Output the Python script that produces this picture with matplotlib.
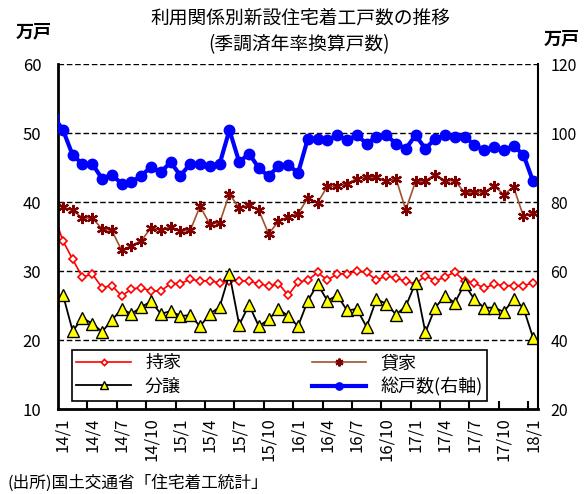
import numpy as np
import matplotlib
matplotlib.use('Agg')
import matplotlib.pyplot as plt

plt.rcParams['font.family'] = ['Noto Sans CJK JP', 'DejaVu Sans']

# months (first one, 13/12, sits just outside the axis and is clipped)
months = ['13/12'] + ['%d/%d' % (y, m) for y in range(14, 18) for m in range(1, 13)] + ['18/1']

# 万戸 (季調済年率)
mochiie = [38.5,
           34.4, 31.7, 29.1, 29.6, 27.6, 27.9, 26.4, 27.4, 27.6, 27.1, 27.1, 28.2,
           28.2, 28.8, 28.6, 28.6, 28.3, 28.6, 28.6, 28.5, 28.2, 27.8, 28.2, 26.5,
           28.4, 28.7, 29.8, 28.7, 29.6, 29.6, 30.0, 29.8, 28.7, 29.3, 29.0, 28.5,
           28.2, 29.3, 28.6, 29.1, 29.9, 28.5, 28.3, 27.5, 28.1, 27.9, 27.9, 27.9,
           28.3]
kashiya = [40.6,
           39.3, 38.8, 37.7, 37.7, 36.1, 35.9, 33.0, 33.7, 34.4, 36.3, 35.9, 36.4,
           35.8, 35.9, 39.4, 36.8, 37.0, 41.2, 39.1, 39.6, 38.8, 35.4, 37.2, 37.9,
           38.3, 40.6, 39.9, 42.3, 42.3, 42.7, 43.4, 43.6, 43.6, 43.0, 43.4, 38.9,
           43.0, 43.1, 44.0, 43.1, 43.1, 41.4, 41.5, 41.4, 42.4, 41.1, 42.2, 38.0,
           38.4]
bunjo = [25.8,
         26.6, 21.3, 23.2, 22.4, 21.2, 22.9, 24.5, 23.8, 24.8, 25.6, 23.8, 24.2,
         23.5, 23.6, 22.0, 23.8, 24.8, 29.6, 22.2, 25.1, 22.0, 23.0, 24.5, 23.5,
         22.0, 25.7, 28.1, 25.7, 26.5, 24.3, 24.5, 21.9, 25.9, 25.3, 23.7, 24.9,
         28.3, 21.1, 24.7, 26.4, 25.4, 28.1, 25.9, 24.7, 24.7, 24.1, 25.9, 24.7,
         20.3]
total = [105.0,
         101.0, 93.6, 91.1, 91.1, 86.8, 88.0, 85.3, 85.8, 87.7, 90.2, 88.7, 91.6,
         87.7, 91.1, 91.1, 90.5, 91.1, 100.9, 91.6, 94.1, 89.9, 87.5, 90.5, 90.9,
         88.4, 98.4, 98.4, 98.0, 99.4, 98.0, 99.4, 97.0, 98.9, 99.4, 97.0, 95.5,
         99.4, 95.5, 98.4, 99.4, 98.9, 98.9, 96.7, 95.0, 96.0, 95.0, 96.3, 93.8,
         86.0]

x = np.arange(len(months)) - 1
label_pos = np.arange(0, 49, 3)
label_txt = [months[i + 1] for i in label_pos]

fig = plt.figure(figsize=(5.84, 4.94), dpi=100)
ax = fig.add_axes([0.0993, 0.172, 0.822, 0.698])
ax2 = ax.twinx()

l1, = ax.plot(x, mochiie, color='red', lw=1.2, marker='D', ms=4.5,
              mfc='white', mec='red', mew=1.2, label='持家')
l2, = ax.plot(x, kashiya, color='#A0522D', lw=1.2, marker=(6, 2, 0), ms=8,
              mec='#800000', mew=1.6, label='貸家')
l3, = ax.plot(x, bunjo, color='black', lw=1.3, marker='^', ms=8.5,
              mfc='#FFFF00', mec='black', mew=1.0, label='分譲')
l4, = ax2.plot(x, total, color='#0000FF', lw=3.0, marker='o', ms=7.5,
               label='総戸数(右軸)')

ax.set_xlim(-0.5, 48.5)
ax.set_ylim(10, 60)
ax2.set_ylim(20, 120)
ax.set_yticks(np.arange(10, 61, 10))
ax2.set_yticks(np.arange(20, 121, 20))

for yy in [20, 30, 40, 50, 60]:
    ax.axhline(yy, color='black', lw=1.0, ls=(0, (4, 2)), zorder=0.5)

ax.set_xticks(label_pos)
ax.set_xticklabels(label_txt, rotation=90, fontsize=12)
ax.set_xticks(np.arange(2.5, 48, 3), minor=True)
ax.tick_params(axis='x', which='major', length=0, pad=6)
ax.tick_params(axis='x', which='minor', direction='in', length=6, width=1.5)
ax.tick_params(axis='y', length=0, pad=12, labelsize=12)
ax2.tick_params(axis='y', length=0, pad=9, labelsize=11.5)

ax.spines['top'].set_visible(False)
ax2.spines['top'].set_visible(False)
ax.spines['left'].set_linewidth(2)
ax.spines['bottom'].set_linewidth(2)
ax2.spines['left'].set_visible(False)
ax2.spines['bottom'].set_visible(False)
ax2.spines['right'].set_linewidth(1.5)
ax.spines['right'].set_visible(False)

leg = ax2.legend(handles=[l1, l3, l2, l4], ncol=2, loc='lower left',
                 bbox_to_anchor=(0.029, 0.023, 0.865, 0.142), mode='expand',
                 borderaxespad=0, fancybox=False, edgecolor='black',
                 framealpha=1, fontsize=13, handlelength=3.0, markerscale=0.7,
                 borderpad=0.25, labelspacing=0.3)
leg.get_frame().set_linewidth(1.2)

fig.text(0.514, 0.963, '利用関係別新設住宅着工戸数の推移', ha='center', va='center', fontsize=13.5)
fig.text(0.512, 0.909, '(季調済年率換算戸数)', ha='center', va='center', fontsize=13.5)
fig.text(0.057, 0.935, '万戸', ha='center', va='center', fontsize=13, fontweight='bold')
fig.text(0.962, 0.921, '万戸', ha='center', va='center', fontsize=13, fontweight='bold')
fig.text(0.012, 0.022, '(出所)国土交通省「住宅着工統計」', ha='left', va='center', fontsize=12)

fig.savefig('out.png', dpi=100)
